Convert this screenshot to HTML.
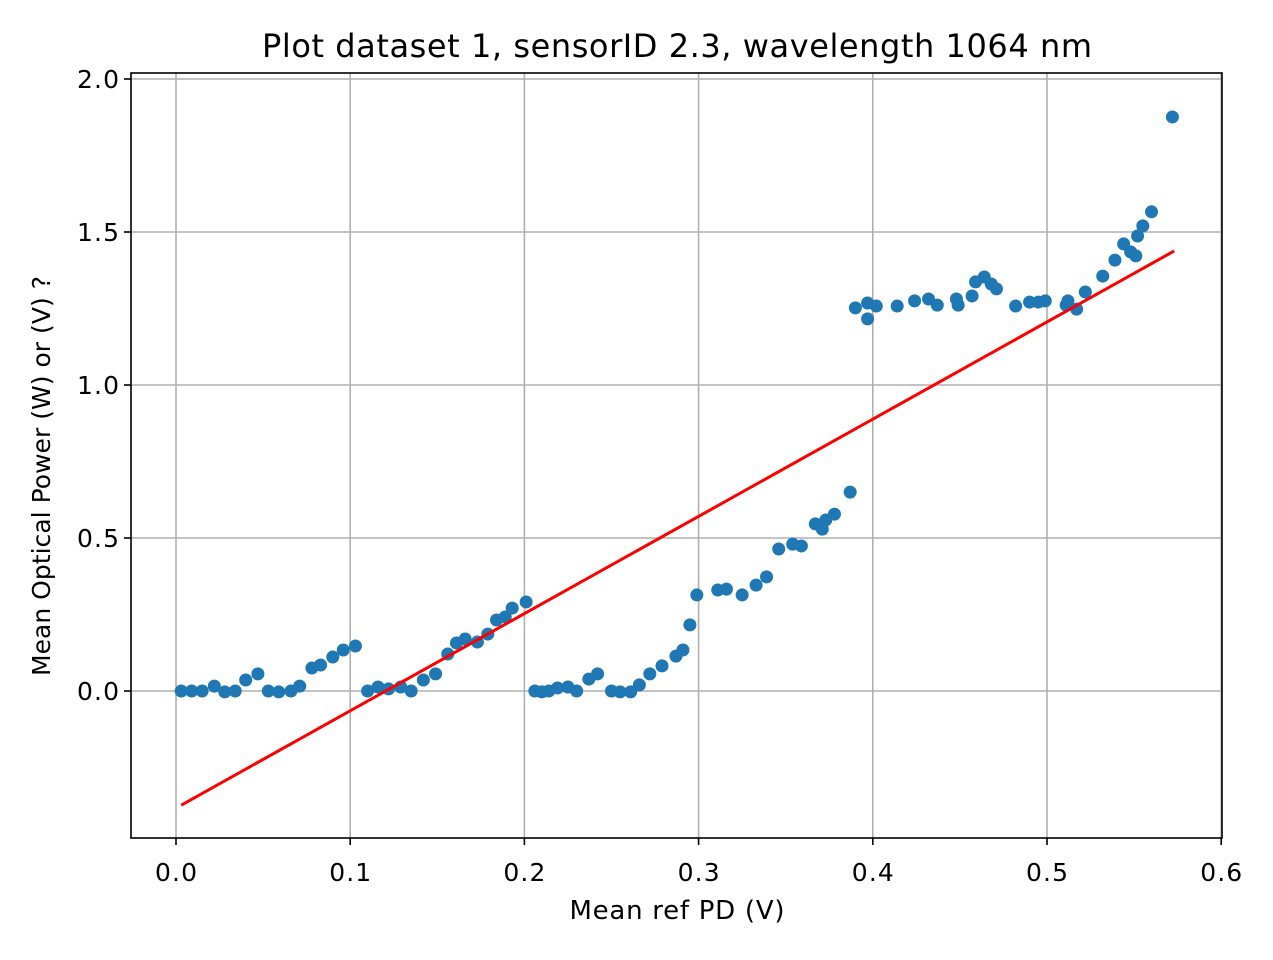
<!DOCTYPE html>
<html><head><meta charset="utf-8"><style>
body{margin:0;background:#fff}
svg text{font-family:"DejaVu Sans","Liberation Sans",sans-serif;fill:#000}
</style></head><body>
<svg id="chart" width="1273" height="955" xmlns="http://www.w3.org/2000/svg">
<rect x="0" y="0" width="1273" height="955" fill="#fff"/>
<text x="677" y="57" font-size="32" text-anchor="middle" textLength="830">Plot dataset 1, sensorID 2.3, wavelength 1064 nm</text>
<text x="677" y="919" font-size="26" text-anchor="middle" textLength="215">Mean ref PD (V)</text>
<text x="0" y="0" font-size="25" text-anchor="middle" textLength="400" transform="translate(50,476) rotate(-90)">Mean Optical Power (W) or (V) ?</text>
<g id="grid"></g><g id="ticks"></g><g id="marks"></g>
<rect x="131" y="73" width="1091" height="765" fill="none" stroke="#000" stroke-width="1.6"/>
</svg>
<script>
const xTicks=[0.0,0.1,0.2,0.3,0.4,0.5,0.6];
const xTickLabels=["0.0","0.1","0.2","0.3","0.4","0.5","0.6"];
const yTicks=[0.0,0.5,1.0,1.5,2.0];
const yTickLabels=["0.0","0.5","1.0","1.5","2.0"];
const xVals=[0.003,0.009,0.015,0.022,0.028,0.034,0.040,0.047,0.053,0.059,0.066,0.071,0.078,0.083,0.090,0.096,0.103,0.110,0.116,0.122,0.129,0.135,0.142,0.149,0.156,0.161,0.166,0.173,0.179,0.184,0.189,0.193,0.201,0.206,0.210,0.214,0.219,0.225,0.230,0.237,0.242,0.250,0.255,0.261,0.266,0.272,0.279,0.287,0.291,0.295,0.299,0.311,0.316,0.325,0.333,0.339,0.346,0.354,0.359,0.367,0.371,0.373,0.378,0.387,0.390,0.397,0.397,0.402,0.414,0.424,0.432,0.437,0.448,0.449,0.457,0.459,0.464,0.468,0.471,0.482,0.490,0.495,0.499,0.511,0.512,0.517,0.522,0.532,0.539,0.544,0.548,0.551,0.552,0.555,0.560,0.572];
const yVals=[0,0,0,0.016,-0.003,0,0.036,0.056,0,-0.003,0,0.016,0.075,0.085,0.111,0.134,0.147,0,0.013,0.007,0.013,0,0.036,0.056,0.121,0.157,0.170,0.160,0.186,0.232,0.242,0.271,0.291,0,-0.003,0,0.010,0.013,0,0.039,0.056,0,-0.003,-0.003,0.020,0.056,0.082,0.114,0.134,0.216,0.314,0.330,0.333,0.314,0.346,0.373,0.464,0.480,0.474,0.546,0.529,0.559,0.578,0.650,1.252,1.268,1.216,1.258,1.258,1.275,1.281,1.261,1.281,1.261,1.291,1.337,1.353,1.330,1.314,1.258,1.271,1.271,1.275,1.261,1.275,1.248,1.304,1.356,1.408,1.461,1.435,1.422,1.487,1.520,1.566,1.876];
const fitX=[0.003,0.573];
const fitY=[-0.373,1.438];
const NS="http://www.w3.org/2000/svg";
const L=131,R=1222,T=73,B=838;
const sx=v=>176+v*1742;
const sy=v=>691-v*306;
function mk(tag,attrs,parent){const e=document.createElementNS(NS,tag);for(const k in attrs)e.setAttribute(k,attrs[k]);parent.appendChild(e);return e;}
const grid=document.getElementById('grid'),ticks=document.getElementById('ticks'),marks=document.getElementById('marks');
xTicks.forEach((v,i)=>{
 const g=mk('line',{x1:sx(v),x2:sx(v),y1:T,y2:B,stroke:'#b0b0b0','stroke-width':1.6},grid);
 
 
 mk('line',{x1:sx(v),x2:sx(v),y1:B,y2:B+7,stroke:'#000','stroke-width':1.6},ticks);
 const t=mk('text',{x:sx(v),y:B+43,'font-size':25,'text-anchor':'middle',textLength:42},ticks);
 t.textContent=xTickLabels[i];
 
 
});
yTicks.forEach((v,i)=>{
 const g=mk('line',{x1:L,x2:R,y1:sy(v),y2:sy(v),stroke:'#b0b0b0','stroke-width':1.6},grid);
 
 
 mk('line',{x1:L-7,x2:L,y1:sy(v),y2:sy(v),stroke:'#000','stroke-width':1.6},ticks);
 const t=mk('text',{x:L-12,y:sy(v)+9,'font-size':25,'text-anchor':'end',textLength:42},ticks);
 t.textContent=yTickLabels[i];
 
 
});
xVals.forEach((v,i)=>{
 const c=mk('circle',{cx:sx(v),cy:sy(yVals[i]),r:6.5,fill:'#1f77b4'},marks);
 
 
});
const ln=mk('line',{x1:sx(fitX[0]),y1:sy(fitY[0]),x2:sx(fitX[1]),y2:sy(fitY[1]),stroke:'#ff0000','stroke-width':3},marks);


</script>
</body></html>
